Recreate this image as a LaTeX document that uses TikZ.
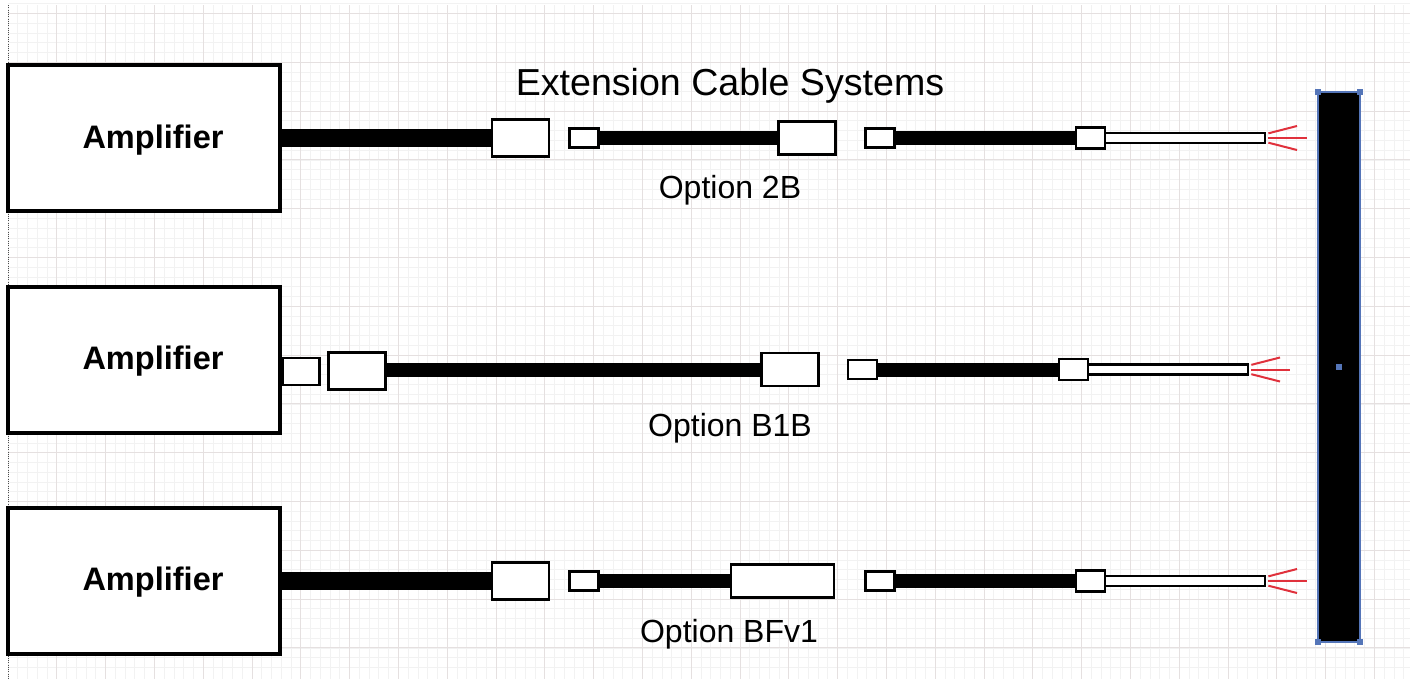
\documentclass[tikz,border=0pt]{standalone}
\usepackage{fontspec}
\setmainfont{Liberation Sans}
\definecolor{gridminor}{HTML}{F2F2F2}
\definecolor{gridmajor}{HTML}{E5E0E0}
\definecolor{handleblue}{HTML}{5475B8}
\definecolor{wirered}{HTML}{E0313C}
\tikzset{
  amp/.style={draw, line width=2.4pt, fill=white, minimum width=204pt, minimum height=109.5pt, outer sep=0pt},
  amplabel/.style={font=\fontsize{24.4}{30}\selectfont\bfseries, inner sep=0pt},
  optlabel/.style={font=\fontsize{24}{28}\selectfont, inner sep=0pt},
  plug/.style={draw, line width=1.9pt, fill=white, minimum width=#1*0.75pt, minimum height=28pt, outer sep=0pt},
  plug/.default=57,
  tip/.style={draw, line width=1.9pt, fill=white, minimum width=22pt, minimum height=14pt, outer sep=0pt},
  boot/.style={draw, line width=1.9pt, fill=white, minimum width=22pt, minimum height=15.5pt, outer sep=0pt},
  lead/.style={draw, line width=1.9pt, fill=white, minimum width=120pt, minimum height=7.5pt, outer sep=0pt},
  fat cable/.style={line width=13.5pt},
  thin cable/.style={line width=10.5pt},
  red wire/.style={draw=wirered, line width=1.5pt},
  handle/.style={fill=handleblue, draw=none, minimum size=5pt, inner sep=0pt},
}
\begin{document}
\begin{tikzpicture}[x=0.75pt, y=-0.75pt]
  \useasboundingbox (0,0) rectangle (1410,679);
  \fill[white] (0,0) rectangle (1410,679);

  % paper grid
  \foreach \i in {0,...,143} {\draw[gridminor, line width=0.6pt] ({8+9.76*\i},5) -- ({8+9.76*\i},679);}
  \foreach \i in {0,...,68} {\draw[gridminor, line width=0.6pt] (8,{3.74+9.76*\i}) -- (1410,{3.74+9.76*\i});}
  \foreach \i in {1,...,28} {\draw[gridmajor, line width=0.7pt] ({8+48.8*\i},5) -- ({8+48.8*\i},679);}
  \foreach \i in {0,...,13} {\draw[gridmajor, line width=0.7pt] (8,{13.5+48.8*\i}) -- (1410,{13.5+48.8*\i});}
  \draw[black!70, line width=0.7pt, densely dotted] (8,5) -- (8,679);

  \node[font=\fontsize{28.2}{32}\selectfont, inner sep=0pt] (title) at (730,85.5) {Extension Cable Systems};

  % amplifiers
  \node[amp] (amp1) at (144,138) {};
  \node[amp] (amp2) at (144,360) {};
  \node[amp] (amp3) at (144,581) {};
  \node[amplabel] (amptext1) at (153,140.5) {Amplifier};
  \node[amplabel] (amptext2) at (153,361.5) {Amplifier};
  \node[amplabel] (amptext3) at (153,582.5) {Amplifier};

  % option 2B
  \node[plug] (sock1) at (520.5,138) {};
  \node[tip] (tip1) at (584,138) {};
  \node[plug, minimum height=25pt] (sock2) at (807,138) {};
  \node[tip] (tip2) at (880,138) {};
  \node[boot] (boot1) at (1090.5,138) {};
  \node[lead] (lead1) at (1185,138) {};
  \draw[fat cable] (amp1.east |- sock1) -- (sock1.west);
  \draw[thin cable] (tip1) -- (sock2);
  \draw[thin cable] (tip2) -- (boot1);

  % option B1B
  \node[plug=37, minimum height=20.5pt] (sock3) at (301,371.5) {};
  \node[plug] (sock4) at (357,371) {};
  \node[plug, minimum height=25pt] (sock5) at (790,369.5) {};
  \node[tip] (tip3) at (862.5,369.5) {};
  \node[boot] (boot2) at (1073.5,369.5) {};
  \node[lead] (lead2) at (1168,369.5) {};
  \draw[thin cable] (sock4.east |- sock5) -- (sock5.west);
  \draw[thin cable] (tip3) -- (boot2);

  % option BFv1
  \node[plug] (sock6) at (520.5,581) {};
  \node[tip] (tip4) at (584,581) {};
  \node[plug=103, minimum height=25pt] (sock7) at (782.5,581) {};
  \node[tip] (tip5) at (880,581) {};
  \node[boot] (boot3) at (1090.5,581) {};
  \node[lead] (lead3) at (1185,581) {};
  \draw[fat cable] (amp3.east |- sock6) -- (sock6.west);
  \draw[thin cable] (tip4) -- (sock7);
  \draw[thin cable] (tip5) -- (boot3);

  % bare wires
  \foreach \n in {1,2,3} {
    \coordinate (wire\n) at ([xshift=2.5pt]lead\n.east);
    \draw[red wire] ([yshift=3.5pt]wire\n) -- ++(21.5pt,5.5pt);
    \draw[red wire] (wire\n) -- ++(29pt,0);
    \draw[red wire] ([yshift=-3.5pt]wire\n) -- ++(21.5pt,-5.5pt);
  }

  \node[optlabel] (opt1) at (730,190) {Option 2B};
  \node[optlabel] (opt2) at (730,428) {Option B1B};
  \node[optlabel] (opt3) at (729,634) {Option BFv1};

  % bar
  \node[fill=black, draw=handleblue, line width=1.3pt, minimum width=31.5pt, minimum height=412.5pt, outer sep=0pt] (bar) at (1339,367) {};
  \foreach \a in {north west, north east, south west, south east} {
    \node[handle] at (bar.\a) {};
  }
  \node[handle] (barmid) at (bar.center) {};
\end{tikzpicture}
\end{document}
